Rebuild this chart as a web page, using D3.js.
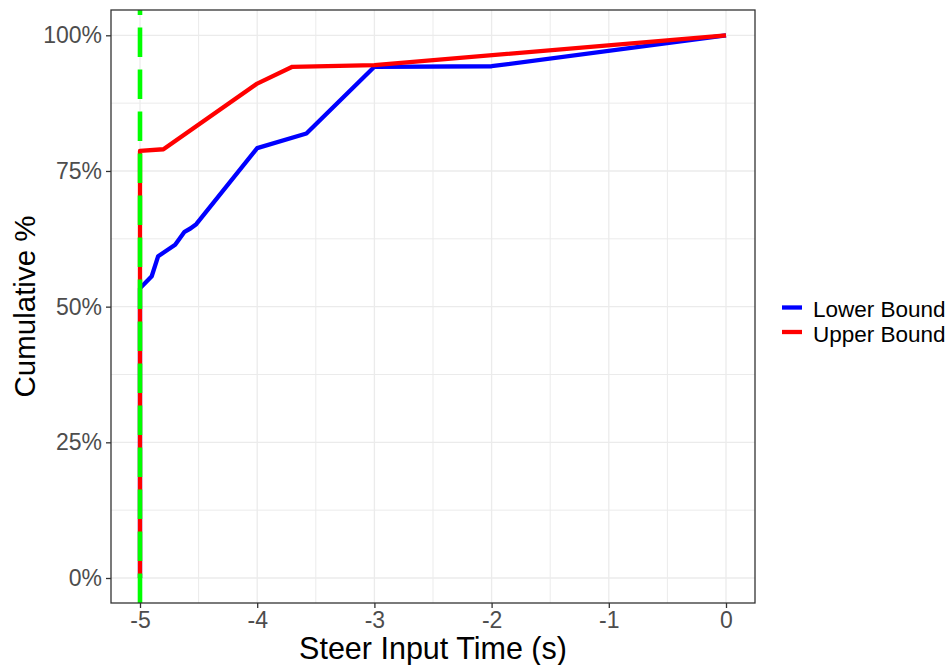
<!DOCTYPE html>
<html>
<head>
<meta charset="utf-8">
<script src="https://cdn.jsdelivr.net/npm/d3@7"></script>
<style>
  html, body { margin: 0; padding: 0; background: #fff; }
  text { font-family: "Liberation Sans", Arial, sans-serif; }
</style>
</head>
<body>
<svg id="chart" width="950" height="665"></svg>
<script>
// Cumulative share of events by steer input time, lower and upper bounds
const seriesNames = ["Lower Bound", "Upper Bound"];
const seriesColors = ["#0000FF", "#FF0000"];

const lowerX = [-5, -5, -4.90, -4.845, -4.70, -4.62, -4.57, -4.52, -4.00, -3.58, -3.00, -2.00, 0];
const lowerY = [0, 0.534, 0.556, 0.593, 0.614, 0.638, 0.644, 0.652, 0.792, 0.819, 0.942, 0.943, 1.0];

const upperX = [-5, -5, -4.80, -4.00, -3.70, -3.00, 0];
const upperY = [0, 0.787, 0.790, 0.911, 0.942, 0.945, 1.0];

const markerX = -5; // reference time drawn as a dashed vertical line

const xTicks = [-5, -4, -3, -2, -1, 0];
const xMinor = [-4.5, -3.5, -2.5, -1.5, -0.5];
const yTicks = [0, 0.25, 0.5, 0.75, 1];
const yMinor = [0.125, 0.375, 0.625, 0.875];
const yTickLabels = ["0%", "25%", "50%", "75%", "100%"];

const svg = d3.select("#chart");
const panel = { left: 111, right: 755, top: 10, bottom: 603 };

const x = d3.scaleLinear().domain([-5, 0]).range([140, 726]);
const y = d3.scaleLinear().domain([0, 1]).range([578, 35.3]);

const clip = svg.append("defs").append("clipPath").attr("id", "panel-clip");
clip.append("rect")
  .attr("x", panel.left).attr("y", panel.top)
  .attr("width", panel.right - panel.left).attr("height", panel.bottom - panel.top);

// grid
const grid = svg.append("g");
const gridColor = "#EBEBEB";
grid.selectAll(".vminor").data(xMinor).join("line")
  .attr("x1", d => x(d)).attr("x2", d => x(d))
  .attr("y1", panel.top).attr("y2", panel.bottom)
  .attr("stroke", gridColor).attr("stroke-width", 1);
grid.selectAll(".hminor").data(yMinor).join("line")
  .attr("y1", d => y(d)).attr("y2", d => y(d))
  .attr("x1", panel.left).attr("x2", panel.right)
  .attr("stroke", gridColor).attr("stroke-width", 1);
grid.selectAll(".vmajor").data(xTicks).join("line")
  .attr("x1", d => x(d)).attr("x2", d => x(d))
  .attr("y1", panel.top).attr("y2", panel.bottom)
  .attr("stroke", gridColor).attr("stroke-width", 1.3);
grid.selectAll(".hmajor").data(yTicks).join("line")
  .attr("y1", d => y(d)).attr("y2", d => y(d))
  .attr("x1", panel.left).attr("x2", panel.right)
  .attr("stroke", gridColor).attr("stroke-width", 1.3);

// series lines
const line = d3.line().x(d => x(d[0])).y(d => y(d[1]));
const series = [
  d3.zip(lowerX, lowerY),
  d3.zip(upperX, upperY)
];
const plot = svg.append("g").attr("clip-path", "url(#panel-clip)");
series.forEach((pts, i) => {
  plot.append("path")
    .attr("d", line(pts))
    .attr("fill", "none")
    .attr("stroke", seriesColors[i])
    .attr("stroke-width", 4.3)
    .attr("stroke-linejoin", "round")
    .attr("stroke-linecap", "butt");
});

// dashed reference line, drawn bottom to top
plot.append("line")
  .attr("x1", x(markerX)).attr("x2", x(markerX))
  .attr("y1", panel.bottom).attr("y2", panel.top)
  .attr("stroke", "#00FF00")
  .attr("stroke-width", 4.6)
  .attr("stroke-dasharray", "29.5 12.5");

// panel border
svg.append("rect")
  .attr("x", panel.left).attr("y", panel.top)
  .attr("width", panel.right - panel.left).attr("height", panel.bottom - panel.top)
  .attr("fill", "none").attr("stroke", "#333333").attr("stroke-width", 1.3);

// x axis
const xAxis = d3.axisBottom(x).tickValues(xTicks).tickSize(5).tickPadding(4)
  .tickFormat(d3.format("d"));
const gx = svg.append("g").attr("transform", `translate(0,${panel.bottom})`).call(xAxis);
gx.select(".domain").remove();
gx.selectAll(".tick line").attr("stroke", "#333333").attr("stroke-width", 1.3);
gx.selectAll(".tick text").attr("fill", "#4D4D4D").attr("font-size", 23)
  .attr("font-family", "Liberation Sans, Arial, sans-serif")
  .text(d => d < 0 ? "-" + Math.abs(d) : String(d));

// y axis
const yAxis = d3.axisLeft(y).tickValues(yTicks).tickSize(5).tickPadding(4)
  .tickFormat((d, i) => yTickLabels[i]);
const gy = svg.append("g").attr("transform", `translate(${panel.left},0)`).call(yAxis);
gy.select(".domain").remove();
gy.selectAll(".tick line").attr("stroke", "#333333").attr("stroke-width", 1.3);
gy.selectAll(".tick text").attr("fill", "#4D4D4D").attr("font-size", 23)
  .attr("font-family", "Liberation Sans, Arial, sans-serif");

// axis titles
svg.append("text")
  .attr("x", (panel.left + panel.right) / 2).attr("y", 659)
  .attr("text-anchor", "middle").attr("font-size", 30.5).attr("fill", "#000")
  .text("Steer Input Time (s)");
svg.append("text")
  .attr("transform", `translate(35,${(panel.top + panel.bottom) / 2}) rotate(-90)`)
  .attr("text-anchor", "middle").attr("font-size", 29.5).attr("fill", "#000")
  .text("Cumulative %");

// legend
const legend = svg.append("g").attr("transform", "translate(782,307.5)");
seriesNames.forEach((name, i) => {
  const g = legend.append("g").attr("transform", `translate(0,${i * 24.5})`);
  g.append("line").attr("x1", 0).attr("x2", 20).attr("y1", 0).attr("y2", 0)
    .attr("stroke", seriesColors[i]).attr("stroke-width", 4.3);
  g.append("text").attr("x", 31).attr("y", 9.5)
    .attr("font-size", 22.5).attr("fill", "#000").text(name);
});
</script>
</body>
</html>
